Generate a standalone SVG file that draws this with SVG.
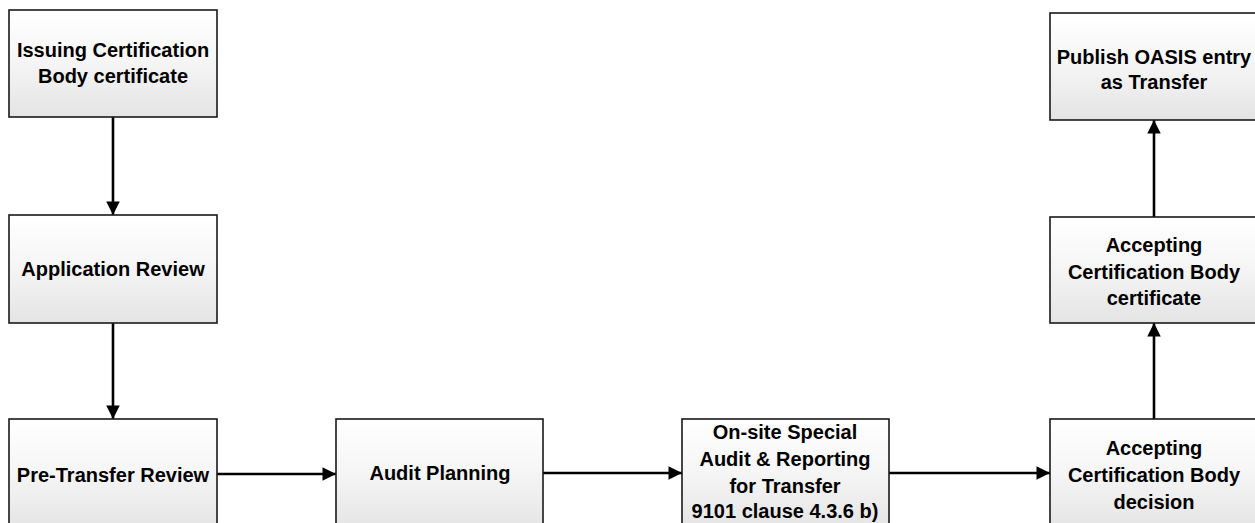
<svg xmlns="http://www.w3.org/2000/svg" width="1255" height="523" viewBox="0 0 1255 523">
  <defs>
    <linearGradient id="boxfill" x1="0" y1="0" x2="0" y2="1">
      <stop offset="0" stop-color="#ffffff"/>
      <stop offset="0.45" stop-color="#f6f6f6"/>
      <stop offset="1" stop-color="#e4e4e4"/>
    </linearGradient>
    <marker id="arrow" viewBox="0 0 10 10" refX="10" refY="5" markerWidth="5.2" markerHeight="5.2" markerUnits="strokeWidth" orient="auto">
      <path d="M0,0 L10,5 L0,10 z" fill="#000"/>
    </marker>
    <style>
      .box { fill: url(#boxfill); stroke: #1a1a1a; stroke-width: 1.6; }
      .lbl { font-family: "Liberation Sans", Arial, sans-serif; font-weight: bold; font-size: 20px; fill: #000; text-anchor: middle; }
      .conn { stroke: #000; stroke-width: 2.6; fill: none; marker-end: url(#arrow); }
    </style>
  </defs>
  <rect width="1255" height="523" fill="#ffffff"/>

  <g id="connectors">
    <line class="conn" x1="113" y1="117" x2="113" y2="215"/>
    <line class="conn" x1="113" y1="323" x2="113" y2="419"/>
    <line class="conn" x1="217" y1="474" x2="336" y2="474"/>
    <line class="conn" x1="543" y1="473" x2="682" y2="473"/>
    <line class="conn" x1="889" y1="473" x2="1050" y2="473"/>
    <line class="conn" x1="1154" y1="419" x2="1154" y2="323"/>
    <line class="conn" x1="1154" y1="217" x2="1154" y2="120"/>
  </g>

  <g id="node-issuing">
    <rect class="box" x="9" y="10" width="208" height="107"/>
    <text class="lbl" x="113" y="57">Issuing Certification</text>
    <text class="lbl" x="113" y="83">Body certificate</text>
  </g>

  <g id="node-application">
    <rect class="box" x="9" y="215" width="208" height="108"/>
    <text class="lbl" x="113" y="276">Application Review</text>
  </g>

  <g id="node-pretransfer">
    <rect class="box" x="9" y="419" width="208" height="112"/>
    <text class="lbl" x="113" y="482">Pre-Transfer Review</text>
  </g>

  <g id="node-auditplanning">
    <rect class="box" x="336" y="419" width="207" height="112"/>
    <text class="lbl" x="440" y="480">Audit Planning</text>
  </g>

  <g id="node-onsite">
    <rect class="box" x="682" y="419" width="207" height="112"/>
    <text class="lbl" x="785" y="439">On-site Special</text>
    <text class="lbl" x="785" y="466">Audit &amp; Reporting</text>
    <text class="lbl" x="785" y="493">for Transfer</text>
    <text class="lbl" x="785" y="518">9101 clause 4.3.6 b)</text>
  </g>

  <g id="node-decision">
    <rect class="box" x="1050" y="419" width="208" height="112"/>
    <text class="lbl" x="1154" y="455">Accepting</text>
    <text class="lbl" x="1154" y="482">Certification Body</text>
    <text class="lbl" x="1154" y="509">decision</text>
  </g>

  <g id="node-acceptcert">
    <rect class="box" x="1050" y="217" width="208" height="106"/>
    <text class="lbl" x="1154" y="252">Accepting</text>
    <text class="lbl" x="1154" y="279">Certification Body</text>
    <text class="lbl" x="1154" y="305">certificate</text>
  </g>

  <g id="node-publish">
    <rect class="box" x="1050" y="13" width="208" height="107"/>
    <text class="lbl" x="1154" y="64">Publish OASIS entry</text>
    <text class="lbl" x="1154" y="89">as Transfer</text>
  </g>
</svg>
